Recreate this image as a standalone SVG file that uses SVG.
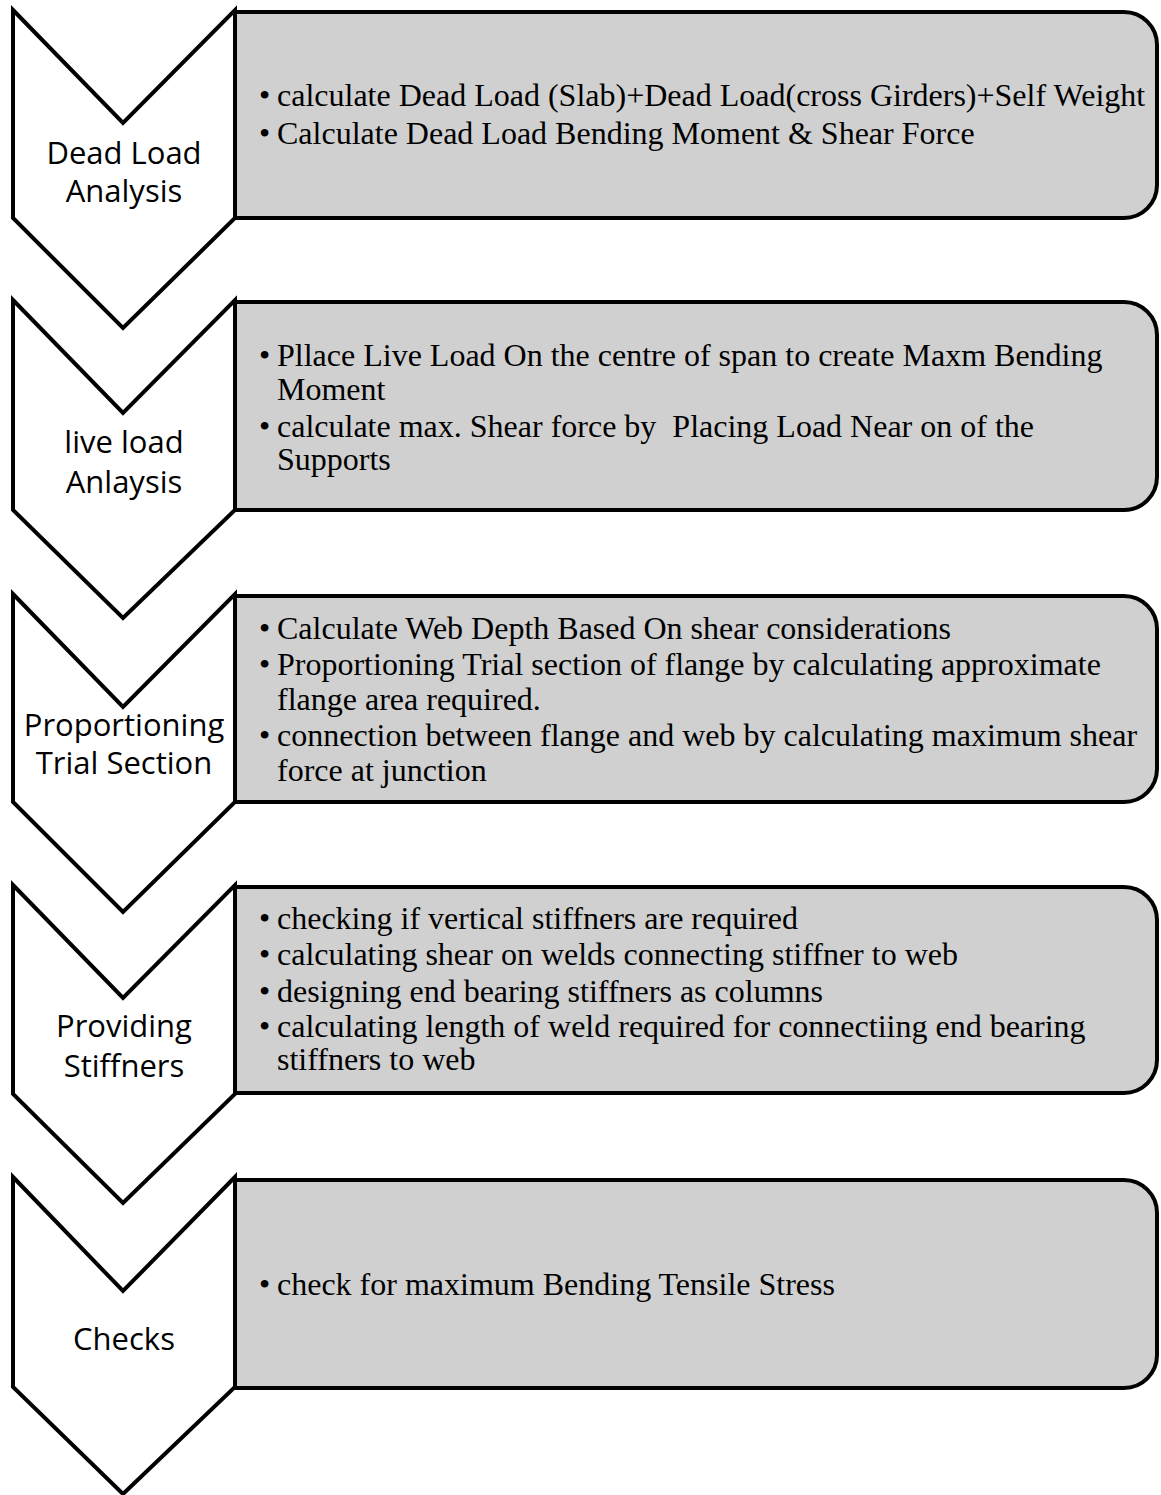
<svg xmlns="http://www.w3.org/2000/svg" width="1161" height="1495" viewBox="0 0 1161 1495">
<style>
.chev{fill:#ffffff;stroke:#000000;stroke-width:4;stroke-linejoin:miter}
.box{fill:#d0d0d0;stroke:#000000;stroke-width:4}
.lbl{font-family:"Open Sans","Noto Sans",sans-serif;font-size:31px;fill:#000000;text-anchor:middle}
.txt{font-family:"Liberation Serif","Times New Roman",serif;font-size:32px;fill:#000000;white-space:pre}
</style>
<rect width="1161" height="1495" fill="#ffffff"/>
<g id="connectors"></g>

<g id="box-dead-load">
<path class="box" d="M235,12 H1124 A33,33 0 0 1 1157,45 V185 A33,33 0 0 1 1124,218 H235 Z"/>
<text class="txt" x="259" y="106">•</text><text class="txt" x="277" y="106">calculate Dead Load (Slab)+Dead Load(cross Girders)+Self Weight</text>
<text class="txt" x="259" y="144">•</text><text class="txt" x="277" y="144">Calculate Dead Load Bending Moment &amp; Shear Force</text>
</g>
<g id="step-dead-load">
<path class="chev" d="M13,10 L123,123 L235,10 L235,218 L123,328 L13,218 Z"/>
<text class="lbl" x="124" y="164">Dead Load</text>
<text class="lbl" x="124" y="202">Analysis</text>
</g>

<g id="box-live-load">
<path class="box" d="M235,302 H1124 A33,33 0 0 1 1157,335 V477 A33,33 0 0 1 1124,510 H235 Z"/>
<text class="txt" x="259" y="366">•</text><text class="txt" x="277" y="366">Pllace Live Load On the centre of span to create Maxm Bending</text>
<text class="txt" x="277" y="400">Moment</text>
<text class="txt" x="259" y="437">•</text><text class="txt" x="277" y="437" xml:space="preserve">calculate max. Shear force by  Placing Load Near on of the</text>
<text class="txt" x="277" y="470">Supports</text>
</g>
<g id="step-live-load">
<path class="chev" d="M13,300 L123,413 L235,300 L235,510 L123,618 L13,510 Z"/>
<text class="lbl" x="124" y="453">live load</text>
<text class="lbl" x="124" y="493">Anlaysis</text>
</g>

<g id="box-trial-section">
<path class="box" d="M235,596 H1124 A33,33 0 0 1 1157,629 V769 A33,33 0 0 1 1124,802 H235 Z"/>
<text class="txt" x="259" y="639">•</text><text class="txt" x="277" y="639">Calculate Web Depth Based On shear considerations</text>
<text class="txt" x="259" y="675">•</text><text class="txt" x="277" y="675">Proportioning Trial section of flange by calculating approximate</text>
<text class="txt" x="277" y="710">flange area required.</text>
<text class="txt" x="259" y="746">•</text><text class="txt" x="277" y="746">connection between flange and web by calculating maximum shear</text>
<text class="txt" x="277" y="781">force at junction</text>
</g>
<g id="step-trial-section">
<path class="chev" d="M13,594 L123,707 L235,594 L235,802 L123,912 L13,802 Z"/>
<text class="lbl" x="124" y="736">Proportioning</text>
<text class="lbl" x="124" y="774">Trial Section</text>
</g>

<g id="box-stiffners">
<path class="box" d="M235,887 H1124 A33,33 0 0 1 1157,920 V1060 A33,33 0 0 1 1124,1093 H235 Z"/>
<text class="txt" x="259" y="929">•</text><text class="txt" x="277" y="929">checking if vertical stiffners are required</text>
<text class="txt" x="259" y="965">•</text><text class="txt" x="277" y="965">calculating shear on welds connecting stiffner to web</text>
<text class="txt" x="259" y="1002">•</text><text class="txt" x="277" y="1002">designing end bearing stiffners as columns</text>
<text class="txt" x="259" y="1037">•</text><text class="txt" x="277" y="1037">calculating length of weld required for connectiing end bearing</text>
<text class="txt" x="277" y="1070">stiffners to web</text>
</g>
<g id="step-stiffners">
<path class="chev" d="M13,885 L123,998 L235,885 L235,1094 L123,1203 L13,1094 Z"/>
<text class="lbl" x="124" y="1037">Providing</text>
<text class="lbl" x="124" y="1077">Stiffners</text>
</g>

<g id="box-checks">
<path class="box" d="M235,1180 H1124 A33,33 0 0 1 1157,1213 V1355 A33,33 0 0 1 1124,1388 H235 Z"/>
<text class="txt" x="259" y="1295">•</text><text class="txt" x="277" y="1295">check for maximum Bending Tensile Stress</text>
</g>
<g id="step-checks">
<path class="chev" d="M13,1177 L123,1291 L235,1177 L235,1387 L123,1494 L13,1387 Z"/>
<text class="lbl" x="124" y="1350">Checks</text>
</g>
</svg>
